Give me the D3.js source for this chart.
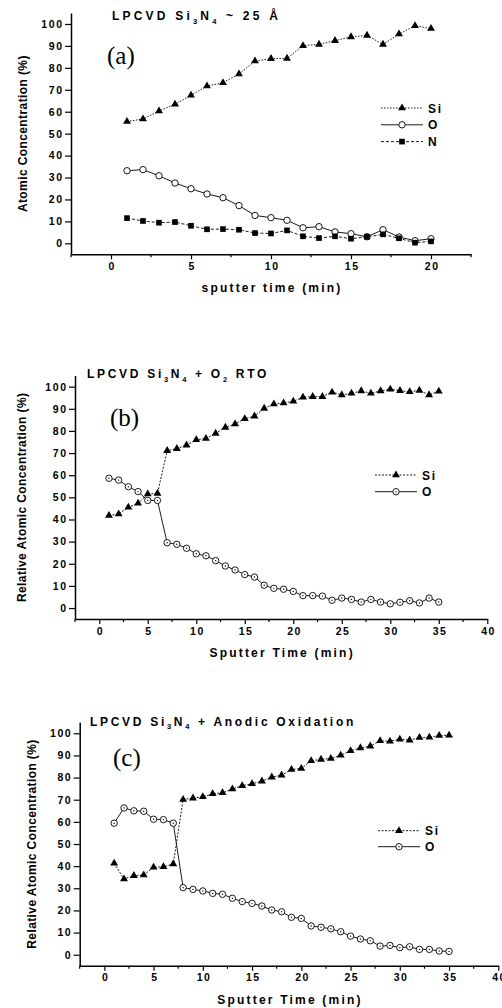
<!DOCTYPE html>
<html><head><meta charset="utf-8">
<script src="https://cdn.jsdelivr.net/npm/d3@7"></script>
<style>body{margin:0;background:#fff} svg{display:block}</style>
</head><body>
<svg id="chart" width="502" height="1008"></svg>
<script>
// ---------- DATA ----------
const timeA = [1,2,3,4,5,6,7,8,9,10,11,12,13,14,15,16,17,18,19,20];
const siA = [55.5,56.7,60.3,63.4,67.5,71.7,73.2,77.2,83.1,84.2,84.3,90.1,90.7,92.4,94.1,94.8,90.7,95.4,99.2,97.9];
const oA  = [33.1,33.6,30.8,27.5,24.9,22.5,20.8,17.2,12.7,11.7,10.5,7.1,7.6,5.2,4.4,3.0,6.2,2.9,1.2,2.1];
const nA  = [11.5,10.2,9.4,9.7,8.0,6.4,6.5,6.2,4.7,4.5,5.9,3.2,2.4,3.2,2.1,3.0,4.1,2.3,0.3,0.9];

const timeBC = [1,2,3,4,5,6,7,8,9,10,11,12,13,14,15,16,17,18,19,20,21,22,23,24,25,26,27,28,29,30,31,32,33,34,35];
const siB = [41.8,42.5,45.5,47.3,51.5,51.8,71.1,72.0,73.6,76.0,76.6,78.9,81.6,83.1,85.5,86.7,90.2,92.2,92.6,93.4,95.2,95.5,95.5,97.5,96.3,97.0,98.1,97.0,98.1,98.8,98.2,97.7,98.3,96.3,97.9];
const oB  = [58.6,57.8,54.8,52.6,48.6,48.6,29.5,28.8,27.0,24.5,23.6,21.4,19.0,17.2,15.1,14.0,10.3,8.9,8.5,7.5,5.6,5.6,5.4,3.5,4.5,3.9,2.7,3.9,2.7,1.9,2.6,3.3,2.3,4.5,2.7];

const siC = [41.3,34.2,35.7,36.0,39.5,39.7,41.0,70.1,70.7,71.3,72.7,73.1,74.8,76.3,77.2,78.4,80.2,81.1,83.6,84.1,87.6,88.2,88.6,90.1,92.1,93.4,94.2,96.6,96.4,97.3,96.9,98.1,98.2,99.0,99.1];
const oC  = [59.4,66.3,65.0,64.8,61.2,61.0,59.4,30.3,29.5,28.8,27.7,27.3,25.5,24.0,23.2,22.0,20.2,19.4,16.9,16.4,13.0,12.4,11.7,10.4,8.4,7.1,6.3,3.9,4.2,3.2,3.6,2.4,2.4,1.7,1.5];

const yTicks = [0,10,20,30,40,50,60,70,80,90,100];
const xTicksA = [0,5,10,15,20];
const xTicksBC = [0,5,10,15,20,25,30,35,40];

// ---------- DRAW ----------
const svg = d3.select("#chart");
const F = "'Liberation Sans', Arial, sans-serif";

function marker(g, type, x, y, dotted) {
  if (type === "tri") {
    g.append("path").attr("d", d3.symbol(d3.symbolTriangle, 27)()).attr("transform", `translate(${x},${y})`).attr("fill", "#000");
  } else if (type === "sq") {
    g.append("path").attr("d", d3.symbol(d3.symbolSquare, 32)()).attr("transform", `translate(${x},${y})`).attr("fill", "#000");
  } else {
    g.append("circle").attr("cx", x).attr("cy", y).attr("r", 3.2).attr("fill", "#fff").attr("stroke", "#000").attr("stroke-width", 0.9);
    if (dotted) g.append("circle").attr("cx", x).attr("cy", y).attr("r", 0.7).attr("fill", "#000");
  }
}

function panel(cfg) {
  const x = d3.scaleLinear().domain(cfg.xDomain).range(cfg.xRange);
  const y = d3.scaleLinear().domain([-5, 105]).range(cfg.yRange);
  const g = svg.append("g");

  const yAx = d3.axisLeft(y).tickValues(yTicks).tickSize(6).tickPadding(3).tickSizeOuter(0);
  const ga = g.append("g").attr("transform", `translate(${cfg.xRange[0]},0)`).call(yAx);
  const xAx = d3.axisBottom(x).tickValues(cfg.xTicks).tickSize(5).tickPadding(3).tickSizeOuter(0);
  const gb = g.append("g").attr("transform", `translate(0,${cfg.yRange[0]})`).call(xAx);
  const minors = d3.range(cfg.xDomain[0], cfg.xDomain[1] + 0.01, 2.5).filter(v => !cfg.xTicks.includes(v));
  gb.selectAll(".minor").data(minors).enter().append("line")
    .attr("x1", d => x(d)).attr("x2", d => x(d)).attr("y1", 0).attr("y2", 3)
    .attr("stroke", "#000").attr("stroke-width", 1.2);
  [ga, gb].forEach(a => {
    a.select(".domain").attr("stroke", "#000").attr("stroke-width", 1.5);
    a.selectAll(".tick line").attr("stroke", "#000").attr("stroke-width", 1.2);
    a.selectAll("text").attr("font-family", F).attr("font-weight", "bold").attr("font-size", 10.5).attr("fill", "#000").attr("letter-spacing", 1.6);
  });
  ga.selectAll("text").attr("dx", 1.6);
  gb.selectAll("text").attr("dx", 0.8);

  cfg.series.forEach(s => {
    const pts = cfg.time.map((t, i) => [x(t), y(s.values[i])]);
    g.append("path").attr("d", d3.line()(pts)).attr("fill", "none").attr("stroke", "#000")
      .attr("stroke-width", 0.9).attr("stroke-dasharray", s.dash || null);
    pts.forEach(p => marker(g, s.type, p[0], p[1], s.dotted));
  });

  cfg.series.forEach((s, i) => {
    const ly = cfg.legend.y + i * cfg.legend.dy;
    g.append("line").attr("x1", cfg.legend.x1).attr("x2", cfg.legend.x2).attr("y1", ly).attr("y2", ly)
      .attr("stroke", "#000").attr("stroke-width", 0.9).attr("stroke-dasharray", s.dash || null);
    marker(g, s.type, (cfg.legend.x1 + cfg.legend.x2) / 2, ly, s.dotted);
    g.append("text").attr("x", cfg.legend.x2 + 5).attr("y", ly + 4.5).text(s.name)
      .attr("font-family", F).attr("font-weight", "bold").attr("font-size", 12).attr("letter-spacing", 1.8);
  });

  const t = g.append("text").attr("x", cfg.title.x).attr("y", cfg.title.y)
    .attr("font-family", F).attr("font-weight", "bold").attr("font-size", 12).attr("letter-spacing", cfg.title.ls);
  cfg.title.parts.forEach(p => {
    const ts = t.append("tspan").text(p[0]);
    if (p[1]) ts.attr("font-size", 7.5).attr("dy", 3.5); else ts.attr("dy", p[2] || 0);
  });

  g.append("text").attr("x", cfg.letter.x).attr("y", cfg.letter.y).text(cfg.letter.t)
    .attr("font-family", "'Liberation Serif', 'Times New Roman', serif").attr("font-size", 25);

  const xm = (cfg.xRange[0] + cfg.xRange[1]) / 2;
  g.append("text").attr("x", xm + 1).attr("y", cfg.yRange[0] + 38).attr("text-anchor", "middle")
    .text(cfg.xLabel).attr("font-family", F).attr("font-weight", "bold").attr("font-size", 12).attr("letter-spacing", cfg.xls);
  const ym = (cfg.yRange[0] + cfg.yRange[1]) / 2;
  g.append("text").attr("transform", `translate(${cfg.yLabX},${ym}) rotate(-90)`).attr("text-anchor", "middle")
    .text(cfg.yLabel).attr("font-family", F).attr("font-weight", "bold").attr("font-size", 12).attr("letter-spacing", 0.4);
}

panel({
  xDomain: [-2.5, 22.5], xRange: [71, 471], yRange: [254.3, 13], xTicks: xTicksA, time: timeA,
  series: [
    {name: "Si", values: siA, type: "tri", dash: "1.5,1.5"},
    {name: "O", values: oA, type: "circ"},
    {name: "N", values: nA, type: "sq", dash: "3,2"}
  ],
  legend: {x1: 381, x2: 423, y: 108, dy: 16.8},
  title: {x: 112, y: 20, ls: 3.2, parts: [["LPCVD Si"], ["3", true], ["N", false, -3.5], ["4", true], [" ~ 25 Å", false, -3.5]]},
  letter: {x: 107, y: 64, t: "(a)"},
  xLabel: "sputter time (min)", xls: 2.2,
  yLabel: "Atomic Concentration (%)", yLabX: 27
});

panel({
  xDomain: [-2.5, 40], xRange: [75, 487.3], yRange: [619.1, 375.6], xTicks: xTicksBC, time: timeBC,
  series: [
    {name: "Si", values: siB, type: "tri", dash: "2,1.5"},
    {name: "O", values: oB, type: "circ", dotted: true}
  ],
  legend: {x1: 375, x2: 417, y: 475, dy: 16.7},
  title: {x: 87, y: 378, ls: 2.7, parts: [["LPCVD Si"], ["3", true], ["N", false, -3.5], ["4", true], [" + O", false, -3.5], ["2", true], [" RTO", false, -3.5]]},
  letter: {x: 110, y: 425.5, t: "(b)"},
  xLabel: "Sputter Time (min)", xls: 2.2,
  yLabel: "Relative Atomic Concentration (%)", yLabX: 26
});

panel({
  xDomain: [-2.5, 40], xRange: [79.7, 498.3], yRange: [965.8, 722.2], xTicks: xTicksBC, time: timeBC,
  series: [
    {name: "Si", values: siC, type: "tri", dash: "2,1.5"},
    {name: "O", values: oC, type: "circ", dotted: true}
  ],
  legend: {x1: 378, x2: 420, y: 830.7, dy: 16},
  title: {x: 90, y: 725.5, ls: 2.7, parts: [["LPCVD Si"], ["3", true], ["N", false, -3.5], ["4", true], [" + Anodic Oxidation", false, -3.5]]},
  letter: {x: 113, y: 765.5, t: "(c)"},
  xLabel: "Sputter Time (min)", xls: 2.2,
  yLabel: "Relative Atomic Concentration (%)", yLabX: 36
});
</script>
</body></html>
